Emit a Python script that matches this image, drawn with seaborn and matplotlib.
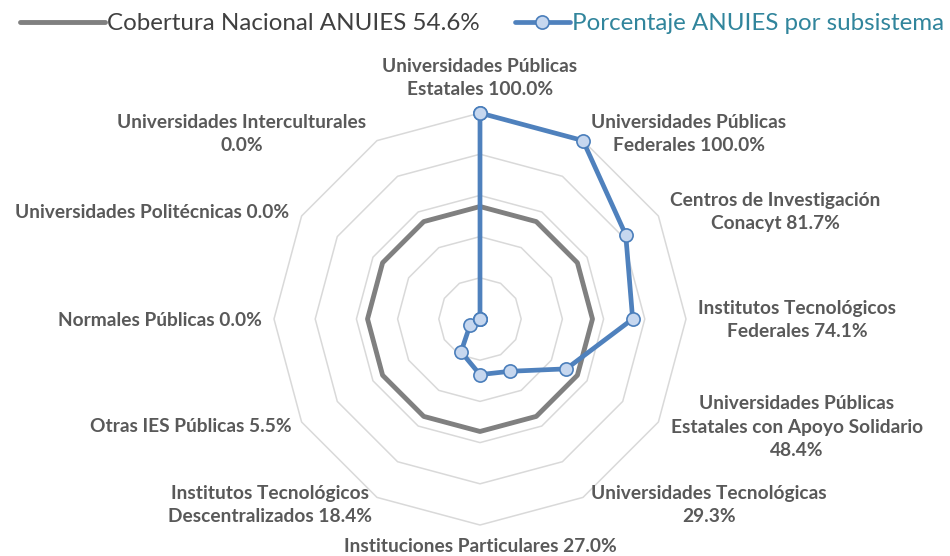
import numpy as np
import pandas as pd
import matplotlib
matplotlib.use("Agg")
import matplotlib.pyplot as plt
import seaborn as sns

# ---- data ----
categories = [
    "Universidades Públicas\nEstatales",
    "Universidades Públicas\nFederales",
    "Centros de Investigación\nConacyt",
    "Institutos Tecnológicos\nFederales",
    "Universidades Públicas\nEstatales con Apoyo Solidario\n",
    "Universidades Tecnológicas\n",
    "Instituciones Particulares",
    "Institutos Tecnológicos\nDescentralizados",
    "Otras IES Públicas",
    "Normales Públicas",
    "Universidades Politécnicas",
    "Universidades Interculturales\n",
]
porcentaje = [100.0, 100.0, 81.7, 74.1, 48.4, 29.3, 27.0, 18.4, 5.5, 0.0, 0.0, 0.0]
cobertura_nacional = 54.6
grid_levels = [20, 40, 60, 80, 100]
series_names = ["Cobertura Nacional ANUIES 54.6%", "Porcentaje ANUIES por subsistema"]

# ---- layout (pixel centres of category labels in the 950x556 image) ----
label_pos = [(480, 78), (689, 134), (775, 212), (797, 320), (797, 427), (709, 505),
             (480, 546), (270, 505), (191, 427), (160, 320), (152, 212), (242, 134)]

sns.set_theme(style="white")
plt.rcParams["font.family"] = ["Lato", "DejaVu Sans"]

W, H = 950, 556
fig = plt.figure(figsize=(W / 100, H / 100), dpi=100)
cx, cy, R = 480, 319, 206
ax = fig.add_axes([(cx - R) / W, (H - cy - R) / H, 2 * R / W, 2 * R / H], projection="polar")
ax.set_theta_zero_location("N")
ax.set_theta_direction(-1)
ax.set_facecolor("none")

n = len(categories)
theta = np.linspace(0, 2 * np.pi, n, endpoint=False)
theta_c = np.append(theta, 2 * np.pi)

# grid polygons
for lvl in grid_levels:
    ax.plot(theta_c, [lvl] * (n + 1), color="#d9d9d9", lw=1.1, zorder=1, clip_on=False)

df = pd.DataFrame({
    "theta": np.concatenate([theta_c, theta_c]),
    "valor": [cobertura_nacional] * (n + 1) + porcentaje + [porcentaje[0]],
    "serie": [series_names[0]] * (n + 1) + [series_names[1]] * (n + 1),
})

sns.lineplot(data=df[df.serie == series_names[0]], x="theta", y="valor", ax=ax,
             color="#808080", lw=3.5, sort=False, estimator=None, zorder=3,
             label=series_names[0], clip_on=False)
sns.lineplot(data=df[df.serie == series_names[1]], x="theta", y="valor", ax=ax,
             color="#4f81bd", lw=3.4, sort=False, estimator=None, zorder=4,
             marker="o", markersize=9.5, markerfacecolor="#c6d7ef",
             markeredgecolor="#4a7ebb", markeredgewidth=1.2,
             label=series_names[1], clip_on=False)

ax.set_ylim(0, 100)
ax.set_xticks([])
ax.set_yticks([])
ax.grid(False)
ax.spines["polar"].set_visible(False)
ax.set_xlabel("")
ax.set_ylabel("")

# category labels
for (x, y), cat, v in zip(label_pos, categories, porcentaje):
    if cat.endswith("\n"):
        txt = f"{cat}{v:.1f}%"
    else:
        txt = f"{cat} {v:.1f}%"
    fig.text(x / W, 1 - y / H, txt, ha="center", va="center", fontsize=13.8,
             fontweight="bold", color="#595959", linespacing=1.48)

# legend: two single-entry legends (different handle lengths, as in the original)
handles, labels = ax.get_legend_handles_labels()
if ax.get_legend():
    ax.get_legend().remove()
leg_fs = 17.4
leg1 = fig.legend([handles[0]], [labels[0]], loc="center left",
                  bbox_to_anchor=(20 / W, 1 - 24 / H), frameon=False,
                  fontsize=leg_fs, handlelength=3.5, handletextpad=0.08,
                  borderpad=0, borderaxespad=0)
leg1.get_texts()[0].set_color("#404040")
leg2 = fig.legend([handles[1]], [labels[1]], loc="center left",
                  bbox_to_anchor=(515 / W, 1 - 24 / H), frameon=False,
                  fontsize=leg_fs, handlelength=2.27, handletextpad=0.08,
                  borderpad=0, borderaxespad=0)
leg2.get_texts()[0].set_color("#31859c")

fig.savefig("out.png", dpi=100)
